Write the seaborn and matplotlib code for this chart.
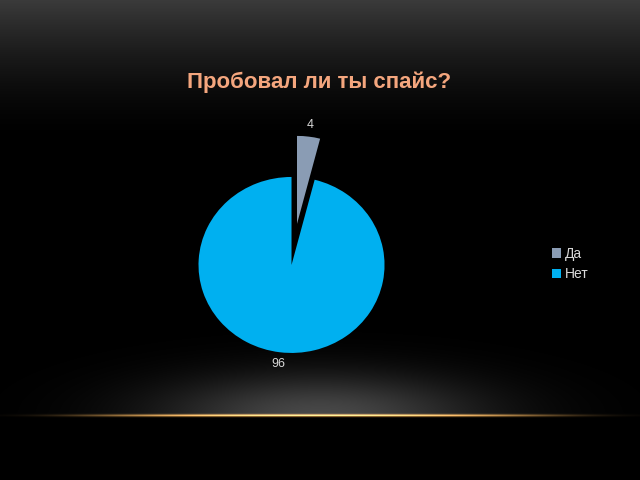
import numpy as np
import matplotlib
matplotlib.use("Agg")
import matplotlib.pyplot as plt
import seaborn as sns

categories = ["Да", "Нет"]
values = [4, 96]
colors = ["#8A9CB4", "#00B0F0"]
title = "Пробовал ли ты спайс?"

sns.set_style("dark")
plt.rcParams["font.family"] = ["Liberation Sans Narrow", "Liberation Sans", "DejaVu Sans"]

fig = plt.figure(figsize=(6.4, 4.8), dpi=100)
fig.patch.set_facecolor("black")

# background: grey gradient at top, glow and golden line at the bottom
H, W = 480, 640
yy, xx = np.mgrid[0:H, 0:W]
top = np.clip(1 - yy / 140.0, 0, 1) ** 1.6 * 0.23
glow = 0.28 * np.exp(-((xx - 320) / 160.0) ** 2 - ((yy - 414) / 40.0) ** 2) * (yy < 416)
grey = top + glow
bg = np.dstack([grey, grey, grey])
line = np.exp(-((yy - 415) / 1.3) ** 2) * np.exp(-((xx - 320) / 230.0) ** 4)
gold = np.array([0.95, 0.68, 0.32])
bg = np.clip(bg + line[..., None] * gold, 0, 1)

bax = fig.add_axes([0, 0, 1, 1])
bax.imshow(bg, aspect="auto", extent=(0, W, H, 0))
bax.axis("off")

fig.text(0.498, 0.829, title, ha="center", va="center", fontsize=16,
         fontweight="bold", color="#F4A67E")

ax = fig.add_axes([0.2375, 0.173, 0.436, 0.55])
ax.set_facecolor("none")
wedges, _, autotexts = ax.pie(values, colors=colors, startangle=90, counterclock=False,
                              explode=[0.47, 0], autopct="%.0f", pctdistance=1.13,
                              wedgeprops=dict(linewidth=0),
                              textprops=dict(color="#D9D9D9", fontsize=9))
ax.set_aspect("auto")
ax.set_xlim(-1.5, 1.5)
ax.set_ylim(-1.5, 1.5)
ax.axis("off")

leg = fig.legend(wedges, categories, loc="center left", bbox_to_anchor=(0.843, 0.45),
                 frameon=False, fontsize=10, labelcolor="#D9D9D9",
                 handlelength=0.65, handleheight=0.65, handletextpad=0.3,
                 labelspacing=0.45)

fig.savefig("out.png", dpi=100, facecolor="black")
